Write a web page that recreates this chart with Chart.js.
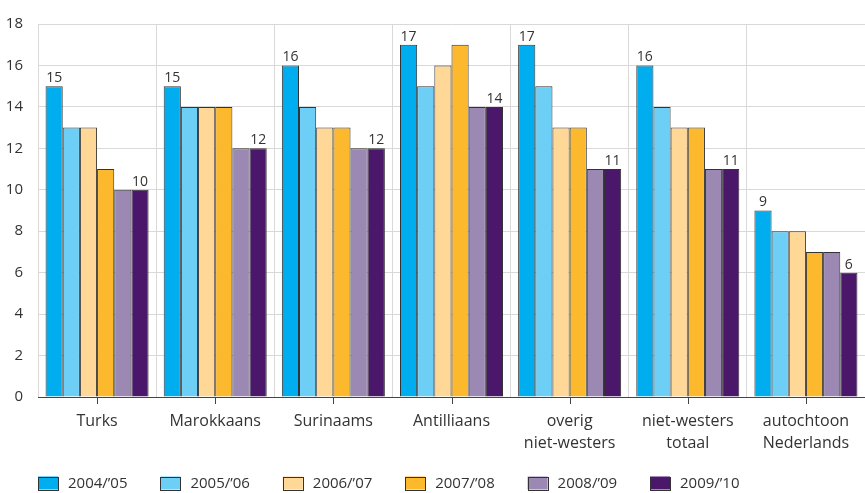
<!DOCTYPE html>
<html>
<head>
<meta charset="utf-8">
<script src="https://cdn.jsdelivr.net/npm/chart.js@4"></script>
<style>
  html, body { margin: 0; padding: 0; background: #fff; }
  #wrap { width: 865px; height: 493px; position: relative; }
</style>
</head>
<body>
<div id="wrap"><canvas id="chart"></canvas></div>
<script>
const categories = [ "Turks", "Marokkaans", "Surinaams", "Antilliaans", [ "overig", "niet-westers" ], [ "niet-westers", "totaal" ], [ "autochtoon", "Nederlands" ] ];
const years = [ "2004/\u201905", "2005/\u201906", "2006/\u201907", "2007/\u201908", "2008/\u201909", "2009/\u201910" ];

const y2004 = [ 15, 15, 16, 17, 17, 16, 9 ];
const y2005 = [ 13, 14, 14, 15, 15, 14, 8 ];
const y2006 = [ 13, 14, 13, 16, 13, 13, 8 ];
const y2007 = [ 11, 14, 13, 17, 13, 13, 7 ];
const y2008 = [ 10, 12, 12, 14, 11, 11, 7 ];
const y2009 = [ 10, 12, 12, 14, 11, 11, 6 ];

const yTicks = [ 0, 2, 4, 6, 8, 10, 12, 14, 16, 18 ];

const colors = [ "#00aeef", "#6dcff6", "#ffd797", "#fdb92e", "#9b89b4", "#4b176b" ];
const series = [ y2004, y2005, y2006, y2007, y2008, y2009 ];

const FONT = "'Open Sans', 'Noto Sans', sans-serif";
const TEXT = "#333";

// values above first and last bar of each group
const barLabels = {
  id: "barLabels",
  afterDatasetsDraw ( chart ) {
    const ctx = chart.ctx;
    ctx.save();
    ctx.font = "14px " + FONT;
    ctx.fillStyle = TEXT;
    ctx.textAlign = "center";
    ctx.textBaseline = "bottom";
    [ 0, series.length - 1 ].forEach( di => {
      const meta = chart.getDatasetMeta( di );
      meta.data.forEach( ( bar, i ) => {
        ctx.fillText( chart.data.datasets[ di ].data[ i ], bar.x, bar.y - 1 );
      } );
    } );
    ctx.restore();
  }
};

// small tick marks under the axis at category centres
const centerTicks = {
  id: "centerTicks",
  afterDraw ( chart ) {
    const xs = chart.scales.x;
    const ctx = chart.ctx;
    ctx.save();
    ctx.strokeStyle = "#444";
    ctx.lineWidth = 1;
    for ( let i = 0;i < categories.length;i++ ) {
      const x = Math.round( xs.getPixelForValue( i ) ) + 0.5;
      ctx.beginPath();
      ctx.moveTo( x, xs.top );
      ctx.lineTo( x, xs.top + 7 );
      ctx.stroke();
    }
    ctx.restore();
  }
};

// legend row along the bottom edge
const bottomLegend = {
  id: "bottomLegend",
  afterDraw ( chart ) {
    const ctx = chart.ctx;
    const y = chart.height - 10;
    ctx.save();
    ctx.font = "15px " + FONT;
    ctx.textBaseline = "middle";
    ctx.textAlign = "left";
    years.forEach( ( label, i ) => {
      const x = 38 + i * 122.4;
      ctx.fillStyle = colors[ i ];
      ctx.fillRect( x, y - 6.5, 20, 13 );
      ctx.strokeStyle = "#333";
      ctx.lineWidth = 1;
      ctx.strokeRect( Math.round( x ) + 0.5, Math.round( y - 6.5 ) + 0.5, 20, 13 );
      ctx.fillStyle = TEXT;
      ctx.fillText( label, x + 30, y + 1 );
    } );
    ctx.restore();
  }
};

new Chart( document.getElementById( "chart" ), {
  type: "bar",
  data: {
    labels: categories,
    datasets: series.map( ( d, i ) => ( {
      label: years[ i ],
      data: d,
      backgroundColor: colors[ i ],
      borderColor: "#333",
      borderWidth: 1,
      borderSkipped: "bottom",
      barPercentage: 1.0,
      categoryPercentage: 0.872
    } ) )
  },
  options: {
    responsive: true,
    maintainAspectRatio: false,
    animation: false,
    layout: { padding: { left: 0, right: 0, top: 3, bottom: 27 } },
    plugins: {
      tooltip: { enabled: false },
      legend: { display: false }
    },
    scales: {
      x: {
        afterFit: axis => { axis.height = 69; },
        grid: { offset: true, color: "#d9d9d9", drawTicks: false },
        border: { color: "#444", width: 1 },
        ticks: { font: { family: FONT, size: 16, lineHeight: 1.375 }, color: TEXT, padding: 13, maxRotation: 0 }
      },
      y: {
        min: 0,
        max: 18,
        afterFit: axis => { axis.width = 38; },
        afterBuildTicks: axis => { axis.ticks = yTicks.map( v => ( { value: v } ) ); },
        grid: { color: "#d9d9d9", drawTicks: false },
        border: { display: false },
        ticks: { font: { family: FONT, size: 15 }, color: TEXT, padding: 15 }
      }
    }
  },
  plugins: [ barLabels, centerTicks, bottomLegend ]
} );
</script>
</body>
</html>
